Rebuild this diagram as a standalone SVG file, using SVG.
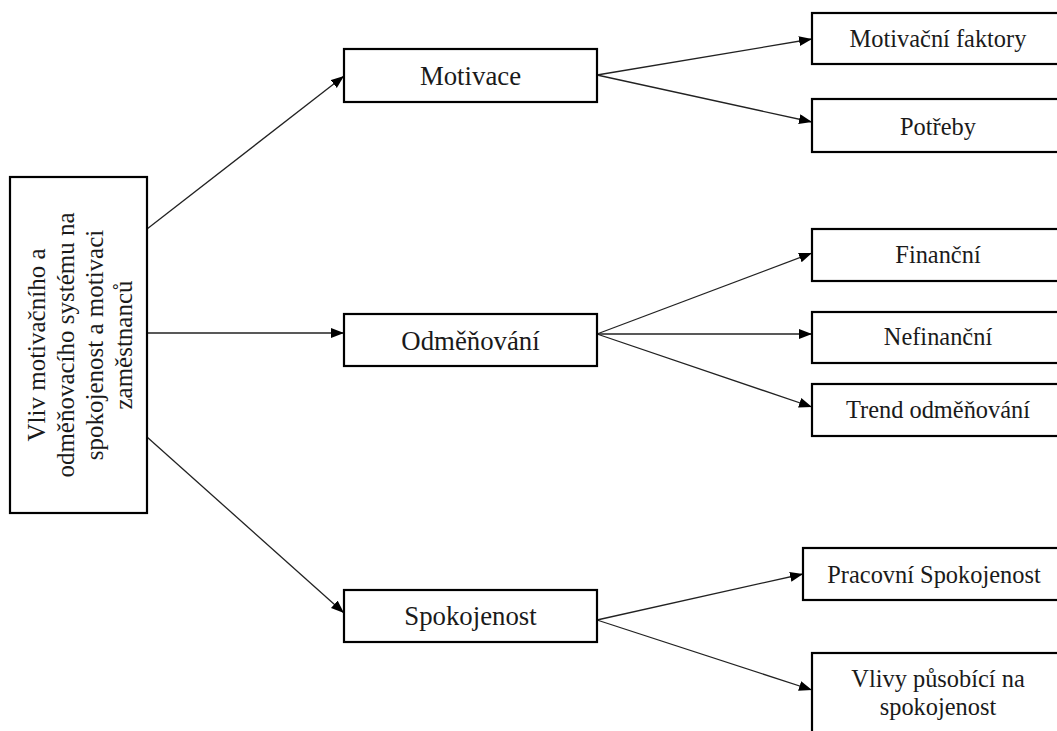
<svg xmlns="http://www.w3.org/2000/svg" width="1057" height="731" viewBox="0 0 1057 731">
<style>
.box{fill:#fff;stroke:#000;stroke-width:2.2}
.t{font-family:"Liberation Serif","Times New Roman",serif;fill:#1a1a1a;text-anchor:middle}
.m{font-size:26.8px}
.s{font-size:24.4px}
.l{font-size:25px}
.c{stroke:#222;stroke-width:1.3;fill:none;marker-end:url(#ah)}
</style>
<defs>
<marker id="ah" markerUnits="userSpaceOnUse" markerWidth="14" markerHeight="11" refX="13" refY="5" orient="auto">
<path d="M0,0 L13,5 L0,10 z" fill="#000"/>
</marker>
</defs>
<g id="connectors">
<line class="c" x1="147" y1="229" x2="344" y2="76"/>
<line class="c" x1="147" y1="333" x2="344" y2="333"/>
<line class="c" x1="147" y1="437" x2="344" y2="613"/>
<line class="c" x1="597" y1="75" x2="812" y2="39"/>
<line class="c" x1="597" y1="75" x2="812" y2="122"/>
<line class="c" x1="597" y1="334" x2="812" y2="253"/>
<line class="c" x1="597" y1="334" x2="812" y2="334"/>
<line class="c" x1="597" y1="334" x2="812" y2="407"/>
<line class="c" x1="597" y1="620" x2="803" y2="574"/>
<line class="c" x1="597" y1="620" x2="812" y2="690"/>
</g>
<g id="root">
<rect class="box" x="10" y="177" width="137" height="336"/>
<text class="t l" transform="translate(45,345) rotate(-90)"><tspan x="0" y="0">Vliv motivačního a</tspan><tspan x="0" dy="29">odměňovacího systému na</tspan><tspan x="0" dy="29">spokojenost a motivaci</tspan><tspan x="0" dy="29">zaměstnanců</tspan></text>
</g>
<g id="motivace">
<rect class="box" x="344" y="49" width="253" height="53"/>
<text class="t m" x="470.5" y="85">Motivace</text>
</g>
<g id="odmenovani">
<rect class="box" x="344" y="314" width="253" height="52"/>
<text class="t m" x="470.5" y="350">Odměňování</text>
</g>
<g id="spokojenost">
<rect class="box" x="344" y="590" width="253" height="52"/>
<text class="t m" x="470.5" y="625">Spokojenost</text>
</g>
<g id="motivacni-faktory">
<rect class="box" x="812" y="13" width="252" height="51"/>
<text class="t s" x="938" y="47">Motivační faktory</text>
</g>
<g id="potreby">
<rect class="box" x="812" y="99" width="252" height="53"/>
<text class="t s" x="938" y="135">Potřeby</text>
</g>
<g id="financni">
<rect class="box" x="812" y="229" width="252" height="52"/>
<text class="t s" x="938" y="263">Finanční</text>
</g>
<g id="nefinancni">
<rect class="box" x="812" y="312" width="252" height="51"/>
<text class="t s" x="938" y="345">Nefinanční</text>
</g>
<g id="trend">
<rect class="box" x="812" y="384" width="252" height="52"/>
<text class="t s" x="938" y="418">Trend odměňování</text>
</g>
<g id="pracovni-spokojenost">
<rect class="box" x="803" y="548" width="262" height="52"/>
<text class="t s" x="934" y="583">Pracovní Spokojenost</text>
</g>
<g id="vlivy">
<rect class="box" x="812" y="653" width="252" height="90"/>
<text class="t s" x="938" y="687">Vlivy působící na<tspan x="938" dy="28">spokojenost</tspan></text>
</g>
</svg>
